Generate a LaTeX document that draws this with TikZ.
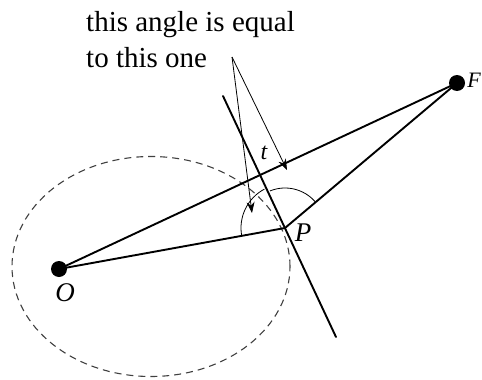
\documentclass[tikz,border=0pt]{standalone}
\usepackage{fontspec}
\setmainfont{Liberation Serif}
\usetikzlibrary{arrows.meta}
\tikzset{
  dot/.style={circle,fill=black,inner sep=0pt,minimum size=16pt},
  mainline/.style={line width=1.9pt,line cap=round},
  thinarrow/.style={line width=0.8pt,-{Stealth[length=11pt,width=8pt]}},
  anglearc/.style={line width=0.8pt},
  orbit/.style={line width=1.1pt,dash pattern=on 7pt off 5pt,black!75},
  lbl/.style={font=\fontsize{27}{30}\selectfont\itshape,inner sep=0pt},
  note/.style={font=\fontsize{29}{34}\selectfont,inner sep=0pt,anchor=base west}
}
\begin{document}
\begin{tikzpicture}[x=1pt,y=1pt]
\useasboundingbox (0,-380) rectangle (482,0);
% ellipse
\draw[orbit] (151,-266.5) ellipse [x radius=139, y radius=110];
% points
\node[dot] (O) at (59,-269) {};
\node[dot] (F) at (457,-83) {};
\coordinate (P) at (285,-228);
\coordinate (T1) at (223,-96);
\coordinate (T2) at (336,-337);
\coordinate (A) at (232,-57);
\coordinate (L) at (252,-213);
\coordinate (R) at (287,-170);
% lines
\draw[mainline] (O.center) -- (F.center);
\draw[mainline] (O.center) -- (P) -- (F.center);
\draw[mainline] (T1) -- (T2);
% angle arcs
\draw[anglearc] ([shift={(190:44)}]P) arc[start angle=190, end angle=118, radius=44];
\draw[anglearc] ([shift={(112:40)}]P) arc[start angle=112, end angle=40, radius=40];
% arrows
\draw[thinarrow] (A) -- (L);
\draw[thinarrow] (A) -- (R);
% labels
\node[lbl] (Olbl) at (65,-293) {O};
\node[lbl] (Plbl) at (303,-233) {P};
\node[lbl,font=\fontsize{24}{28}\selectfont\itshape] (tlbl) at (264,-153) {t};
\node[lbl,anchor=east,font=\fontsize{22}{26}\selectfont\itshape] (Flbl) at (481,-80) {F};
\node[note] (n1) at (86,-31) {this angle is equal};
\node[note] (n2) at (86,-67) {to this one};
\end{tikzpicture}
\end{document}
